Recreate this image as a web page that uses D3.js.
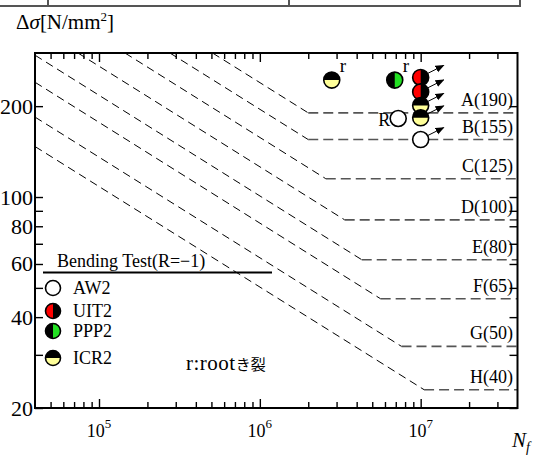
<!DOCTYPE html>
<html>
<head>
<meta charset="utf-8">
<script src="https://cdn.jsdelivr.net/npm/d3@7"></script>
<style>
  body { margin: 0; background: #fff; }
  svg { display: block; font-family: "Liberation Serif", "Times New Roman", serif; }
</style>
</head>
<body>
<div id="chart"></div>
<script>
// detail categories (JSSC): strength at 2x10^6 cycles and the cut-off level
const categories = ['A', 'B', 'C', 'D', 'E', 'F', 'G', 'H'];
const strength2M = [190, 155, 125, 100, 80, 65, 50, 40];
const cutoffLevel = [190, 155, 115, 84, 62, 46, 32, 23];
const kneeCycles = [2.0e6, 2.0e6, 2.57e6, 3.37e6, 4.3e6, 5.64e6, 7.6e6, 1.05e7];
// where each sloped part enters the plot (top or left edge)
const startCycles = [5.08e5, 2.76e5, 1.45e5, 7.4e4, 4e4, 4e4, 4e4, 4e4];
const startStress = [300, 300, 300, 300, 295, 240, 184, 147];

// test results (bending, R=-1)
const aw2Cycles = [7.25e6, 1.0e7];
const aw2Stress = [182, 155];
const aw2Runout = [false, true];
const aw2Note = ['R', ''];

const uit2Cycles = [1.0e7, 1.0e7];
const uit2Stress = [249, 223];
const uit2Runout = [true, true];
const uit2Note = ['', ''];

const ppp2Cycles = [6.9e6];
const ppp2Stress = [244];
const ppp2Runout = [false];
const ppp2Note = ['r'];

const icr2Cycles = [2.8e6, 1.0e7, 1.0e7];
const icr2Stress = [244, 201, 183];
const icr2Runout = [false, true, true];
const icr2Note = ['r', '', ''];

const seriesNames = ['AW2', 'UIT2', 'PPP2', 'ICR2'];

const xMajor = [1e5, 1e6, 1e7];
const yTicks = [20, 30, 40, 50, 60, 70, 80, 90, 100, 200];
const yLabels = [20, 40, 60, 80, 100, 200];

const width = 539, height = 455;
const plot = {left: 35, right: 517.5, top: 53, bottom: 408};

const svg = d3.select('#chart').append('svg')
    .attr('width', width)
    .attr('height', height);

const x = d3.scaleLog().domain([4e4, 4e7]).range([plot.left, plot.right]);
const y = d3.scaleLog().domain([20, 300]).range([plot.bottom, plot.top]);

// bit of the table above the figure
svg.append('path')
    .attr('d', 'M0,6 H520 V0 M48,0 V6 M289,0 V6')
    .attr('fill', 'none')
    .attr('stroke', '#555')
    .attr('stroke-width', 2);

const defs = svg.append('defs');
defs.append('clipPath').attr('id', 'plotClip')
  .append('rect')
    .attr('x', plot.left).attr('y', plot.top)
    .attr('width', plot.right - plot.left)
    .attr('height', plot.bottom - plot.top);

defs.append('marker')
    .attr('id', 'arrow')
    .attr('markerUnits', 'userSpaceOnUse')
    .attr('markerWidth', 9)
    .attr('markerHeight', 9)
    .attr('viewBox', '0 0 10 10')
    .attr('refX', 9)
    .attr('refY', 5)
    .attr('orient', 'auto')
  .append('path')
    .attr('d', 'M0,1 L10,5 L0,9 Z')
    .attr('fill', '#000');

// design curves
const line = d3.line().x(d => x(d[0])).y(d => y(d[1]));
const curves = svg.append('g').attr('clip-path', 'url(#plotClip)');
categories.forEach((c, i) => {
  curves.append('path')
      .attr('d', line([[startCycles[i], startStress[i]], [kneeCycles[i], cutoffLevel[i]]]))
      .attr('fill', 'none')
      .attr('stroke', '#000')
      .attr('stroke-width', 1)
      .attr('stroke-dasharray', '8,5');
  curves.append('path')
      .attr('d', line([[kneeCycles[i], cutoffLevel[i]], [x.domain()[1], cutoffLevel[i]]]))
      .attr('fill', 'none')
      .attr('stroke', '#555')
      .attr('stroke-width', 1.6)
      .attr('stroke-dasharray', '10,5');
});

svg.append('g').selectAll('text')
  .data(categories)
  .join('text')
    .attr('x', 513)
    .attr('y', (d, i) => y(cutoffLevel[i]) - 7)
    .attr('text-anchor', 'end')
    .attr('font-size', 18)
    .text((d, i) => d + '(' + strength2M[i] + ')');

// axes: ticks point inward on all four sides
const xMinor = [];
[1e4, 1e5, 1e6, 1e7].forEach(dec => {
  for (let k = 2; k <= 9; k++) {
    const v = dec * k;
    if (v > 4e4 && v < 4e7) xMinor.push(v);
  }
});

function drawTicks(axis, transform) {
  const g = svg.append('g').attr('transform', transform).call(axis);
  g.select('.domain').remove();
  g.selectAll('line').attr('stroke', '#000').attr('stroke-width', 1.4);
  return g;
}
drawTicks(d3.axisBottom(x).tickValues(xMinor).tickSize(-6).tickFormat(''), `translate(0,${plot.bottom})`);
drawTicks(d3.axisBottom(x).tickValues(xMajor).tickSize(-9).tickFormat(''), `translate(0,${plot.bottom})`);
drawTicks(d3.axisTop(x).tickValues(xMinor).tickSize(-6).tickFormat(''), `translate(0,${plot.top})`);
drawTicks(d3.axisTop(x).tickValues(xMajor).tickSize(-9).tickFormat(''), `translate(0,${plot.top})`);
drawTicks(d3.axisLeft(y).tickValues(yTicks).tickSize(-8).tickFormat(''), `translate(${plot.left},0)`);
drawTicks(d3.axisRight(y).tickValues(yTicks).tickSize(-8).tickFormat(''), `translate(${plot.right},0)`);

svg.append('rect')
    .attr('x', plot.left).attr('y', plot.top)
    .attr('width', plot.right - plot.left)
    .attr('height', plot.bottom - plot.top)
    .attr('fill', 'none')
    .attr('stroke', '#000')
    .attr('stroke-width', 2);

// tick labels
const xLab = svg.append('g').selectAll('text')
  .data(xMajor)
  .join('text')
    .attr('x', d => x(d))
    .attr('y', 437)
    .attr('text-anchor', 'middle')
    .attr('font-size', 18);
xLab.append('tspan').text('10');
xLab.append('tspan').attr('dy', -9).attr('font-size', 13).text(d => Math.round(Math.log10(d)));

svg.append('g').selectAll('text')
  .data(yLabels)
  .join('text')
    .attr('x', 33)
    .attr('y', d => y(d) + 7.5)
    .attr('text-anchor', 'end')
    .attr('font-size', 22)
    .text(d => d);

// axis titles
const yTitle = svg.append('text').attr('x', 16).attr('y', 29).attr('font-size', 21);
yTitle.append('tspan').text('Δ');
yTitle.append('tspan').attr('font-style', 'italic').text('σ');
yTitle.append('tspan').text('[N/mm');
yTitle.append('tspan').attr('font-size', 13).attr('dy', -8).text('2');
yTitle.append('tspan').attr('dy', 8).text(']');

const xTitle = svg.append('text').attr('x', 512).attr('y', 447).attr('font-size', 21).attr('font-style', 'italic');
xTitle.append('tspan').text('N');
xTitle.append('tspan').attr('font-size', 14).attr('dy', 5).text('f');

// marker symbols
const r = 8;
const halfArc = d3.arc().innerRadius(0).outerRadius(r);
const symbolStyle = {
  AW2: {base: '#fff', half: null},
  UIT2: {base: '#000', half: '#ff0000', start: Math.PI, end: 2 * Math.PI},
  PPP2: {base: '#000', half: '#22e022', start: 0, end: Math.PI},
  ICR2: {base: '#000', half: '#ffff99', start: Math.PI / 2, end: Math.PI * 1.5}
};

function drawSymbol(g, name, radius) {
  const s = symbolStyle[name];
  g.append('circle').attr('r', radius).attr('fill', s.base);
  if (s.half) {
    g.append('path')
        .attr('d', halfArc.outerRadius(radius)({startAngle: s.start, endAngle: s.end}))
        .attr('fill', s.half);
  }
  g.append('circle').attr('r', radius)
      .attr('fill', 'none')
      .attr('stroke', '#000')
      .attr('stroke-width', 1.6);
}

const points = [];
function addSeries(name, cycles, stress, runout, note) {
  cycles.forEach((n, i) => points.push({name, n, s: stress[i], runout: runout[i], note: note[i]}));
}
addSeries('AW2', aw2Cycles, aw2Stress, aw2Runout, aw2Note);
addSeries('UIT2', uit2Cycles, uit2Stress, uit2Runout, uit2Note);
addSeries('PPP2', ppp2Cycles, ppp2Stress, ppp2Runout, ppp2Note);
addSeries('ICR2', icr2Cycles, icr2Stress, icr2Runout, icr2Note);
points.sort((a, b) => b.s - a.s);

const pts = svg.append('g');
points.forEach(p => {
  const g = pts.append('g').attr('transform', `translate(${x(p.n)},${y(p.s)})`);
  drawSymbol(g, p.name, r);
  if (p.runout) {
    g.append('line')
        .attr('x1', 7).attr('y1', -4)
        .attr('x2', 23).attr('y2', -12)
        .attr('stroke', '#000')
        .attr('stroke-width', 1)
        .attr('marker-end', 'url(#arrow)');
  }
  if (p.note === 'r') {
    g.append('text').attr('x', 8).attr('y', -8).attr('font-size', 19).text('r');
  } else if (p.note === 'R') {
    g.append('text').attr('x', -8).attr('y', 7).attr('text-anchor', 'end').attr('font-size', 18).text('R');
  }
});

// legend
const legend = svg.append('g');
legend.append('line')
    .attr('x1', 43).attr('x2', 272)
    .attr('y1', 272.5).attr('y2', 272.5)
    .attr('stroke', '#000')
    .attr('stroke-width', 2);
legend.append('text')
    .attr('x', 57).attr('y', 267)
    .attr('font-size', 18)
    .text('Bending Test(R=−1)');
const legendY = [288, 311, 331, 358];
seriesNames.forEach((name, i) => {
  const g = legend.append('g').attr('transform', `translate(53,${legendY[i]})`);
  drawSymbol(g, name, 7.5);
  g.append('text').attr('x', 20).attr('y', 6).attr('font-size', 18).text(name);
});

const note = svg.append('text').attr('x', 186).attr('y', 370);
note.append('tspan').attr('font-size', 21).attr('letter-spacing', 0.5).text('r:root');
note.append('tspan')
    .attr('font-family', '"Noto Sans CJK JP", sans-serif')
    .attr('font-size', 15)
    .text('き裂');
</script>
</body>
</html>
